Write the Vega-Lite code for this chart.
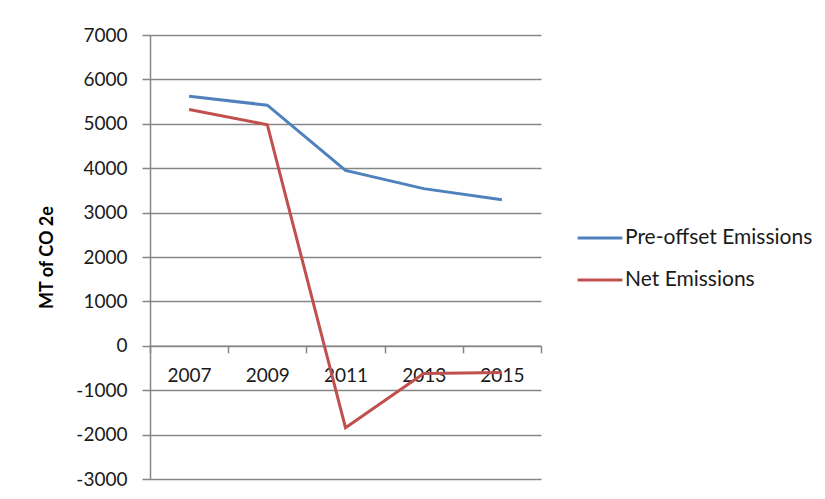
{
  "$schema": "https://vega.github.io/schema/vega-lite/v6.json",
  "width": 391,
  "height": 444,
  "autosize": "none",
  "padding": {"left": 150, "top": 35, "right": 284, "bottom": 20},
  "background": "white",
  "data": {"values": [
    {"year": "2007", "series": "Pre-offset Emissions", "value": 5620},
    {"year": "2009", "series": "Pre-offset Emissions", "value": 5420},
    {"year": "2011", "series": "Pre-offset Emissions", "value": 3950},
    {"year": "2013", "series": "Pre-offset Emissions", "value": 3540},
    {"year": "2015", "series": "Pre-offset Emissions", "value": 3290},
    {"year": "2007", "series": "Net Emissions", "value": 5320},
    {"year": "2009", "series": "Net Emissions", "value": 4980},
    {"year": "2011", "series": "Net Emissions", "value": -1845},
    {"year": "2013", "series": "Net Emissions", "value": -625},
    {"year": "2015", "series": "Net Emissions", "value": -600}
  ]},
  "mark": {"type": "line", "strokeWidth": 3, "interpolate": "linear"},
  "encoding": {
    "x": {
      "field": "year", "type": "ordinal", "title": null,
      "scale": {"paddingInner": 0, "paddingOuter": 0},
      "axis": {
        "offset": -133.2,
        "labelAngle": 0,
        "tickBand": "extent",
        "domainColor": "#868686", "domainWidth": 1.5,
        "tickColor": "#868686", "tickWidth": 1.5, "tickSize": 7,
        "labelFont": "Lato", "labelFontSize": 19, "labelColor": "#1a1a1a",
        "labelPadding": 14,
        "grid": false
      }
    },
    "y": {
      "field": "value", "type": "quantitative",
      "title": "MT of CO 2e",
      "scale": {"domain": [-3000, 7000], "nice": false, "zero": false},
      "axis": {
        "values": [-3000, -2000, -1000, 0, 1000, 2000, 3000, 4000, 5000, 6000, 7000],
        "labelExpr": "'' + datum.value",
        "grid": true, "gridColor": "#868686", "gridWidth": 1.5,
        "domainColor": "#868686", "domainWidth": 1.5,
        "tickColor": "#868686", "tickWidth": 1.5, "tickSize": 8,
        "labelFont": "Lato", "labelFontSize": 19, "labelColor": "#1a1a1a",
        "labelPadding": 15,
        "titleFont": "Lato", "titleFontSize": 18, "titleFontWeight": "bold", "titleColor": "#000000",
        "titlePadding": 19
      }
    },
    "color": {
      "field": "series", "type": "nominal", "title": null,
      "sort": ["Pre-offset Emissions", "Net Emissions"],
      "scale": {"domain": ["Pre-offset Emissions", "Net Emissions"], "range": ["#4F81BD", "#C0504D"]},
      "legend": {
        "orient": "none", "legendX": 426, "legendY": 179,
        "symbolType": "stroke", "symbolStrokeWidth": 3, "symbolSize": 2000,
        "labelFont": "Lato", "labelFontSize": 21, "labelColor": "#1a1a1a", "labelLimit": 400,
        "rowPadding": 8, "labelOffset": 1, "padding": 0
      }
    }
  },
  "config": {"view": {"stroke": null}}
}
